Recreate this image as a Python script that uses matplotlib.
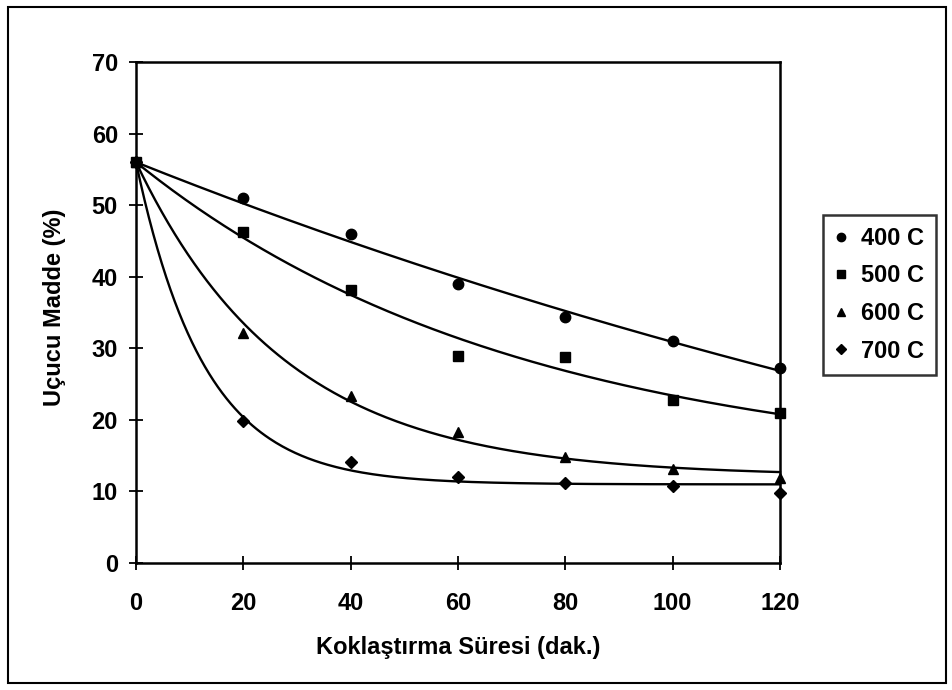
import numpy as np
import matplotlib
matplotlib.use("Agg")
import matplotlib.pyplot as plt
from matplotlib.patches import Rectangle

# Veriler
sure = [0, 20, 40, 60, 80, 100, 120]
madde_400 = [56.0, 51.0, 46.0, 39.0, 34.4, 31.0, 27.2]
madde_500 = [56.0, 46.2, 38.1, 28.9, 28.8, 22.8, 20.9]
madde_600 = [56.0, 32.1, 23.3, 18.3, 14.8, 13.1, 11.9]
madde_700 = [56.0, 19.8, 14.1, 12.0, 11.2, 10.8, 9.8]
etiketler = ["400 C", "500 C", "600 C", "700 C"]
isaretler = ["o", "s", "^", "D"]


def egilim(x, y):
    # y = c + (y0 - c)*exp(-k x), ilk noktadan gecen egilim cizgisi
    x = np.asarray(x, float)
    y = np.asarray(y, float)
    y0 = y[0]
    en_iyi = None
    for k in np.linspace(0.001, 0.3, 1500):
        e = np.exp(-k * x)
        b = 1 - e
        c = np.dot(b, y - y0 * e) / np.dot(b, b)
        hata = np.sum((c + (y0 - c) * e - y) ** 2)
        if en_iyi is None or hata < en_iyi[0]:
            en_iyi = (hata, k, c)
    _, k, c = en_iyi
    xs = np.linspace(0, 120, 300)
    return xs, c + (y0 - c) * np.exp(-k * xs)


plt.rcParams['font.family'] = ['Liberation Sans', 'DejaVu Sans']
plt.rcParams['font.weight'] = 'bold'

fig = plt.figure(figsize=(9.53, 6.90), dpi=100)
ax = fig.add_axes([136 / 953, 1 - 563 / 690, (780 - 136) / 953, (563 - 62) / 690])

seriler = [madde_400, madde_500, madde_600, madde_700]
for y, lab, m in zip(seriler, etiketler, isaretler):
    ms = 6.5 if m == "D" else 7.5
    ax.plot(sure, y, linestyle="none", marker=m, color="black", markersize=ms,
            label=lab, clip_on=False, zorder=3)
    xs, ys = egilim(sure, y)
    ax.plot(xs, ys, color="black", linewidth=1.7, clip_on=False)

ax.set_xlim(0, 120)
ax.set_ylim(0, 70)
ax.set_xticks(range(0, 121, 20))
ax.set_yticks(range(0, 71, 10))
ax.tick_params(direction="inout", length=10, width=1.3, labelsize=17)
ax.tick_params(axis="x", pad=16)
ax.tick_params(axis="y", pad=8)
for t in ax.get_xticklabels() + ax.get_yticklabels():
    t.set_fontweight("bold")
for s in ax.spines.values():
    s.set_linewidth(1.8)

ax.set_xlabel("Koklaştırma Süresi (dak.)", fontsize=17, fontweight="bold", va="center")
ax.xaxis.set_label_coords(0.5, -0.168)
ax.set_ylabel("Uçucu Madde (%)", fontsize=17, fontweight="bold", va="center")
ax.yaxis.set_label_coords(-0.127, 0.51)

leg = fig.legend(loc="upper left", bbox_to_anchor=(823 / 953, 1 - 215 / 690),
                 frameon=True, fancybox=False, edgecolor="black", fontsize=17,
                 handlelength=0.5, handletextpad=0.6, labelspacing=0.62,
                 borderpad=0.5, borderaxespad=0, markerscale=0.8)
leg.get_frame().set_linewidth(1.8)
for t in leg.get_texts():
    t.set_fontweight("bold")

fig.patches.append(Rectangle((8 / 953, 7 / 690), 938 / 953, 676 / 690,
                             transform=fig.transFigure, fill=False,
                             edgecolor="black", linewidth=1.5))

plt.savefig("out.png", dpi=100)
